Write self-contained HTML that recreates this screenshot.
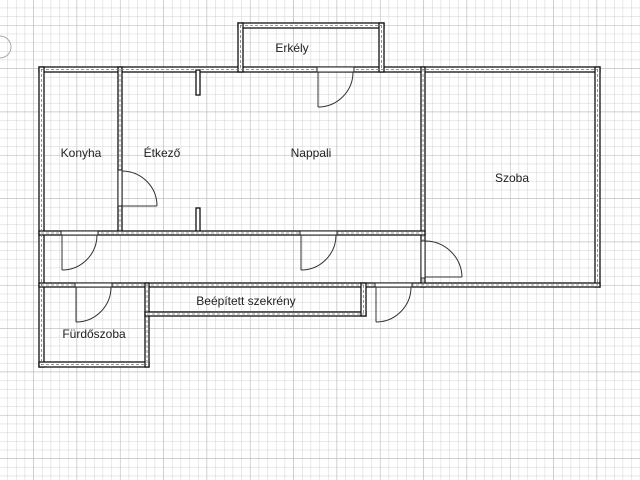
<!DOCTYPE html>
<html><head><meta charset="utf-8"><style>
html,body{margin:0;padding:0;background:#fff;}
svg{display:block;}
text{font-family:"Liberation Sans",sans-serif;font-size:12px;fill:#222;}
</style></head><body>
<svg width="640" height="480" viewBox="0 0 640 480" xmlns="http://www.w3.org/2000/svg">
<defs>
<pattern id="minor" x="7.3" y="7.7" width="8.667" height="8.667" patternUnits="userSpaceOnUse">
<path d="M0 0H8.667M0 0V8.667" stroke="#d2d2d2" stroke-width="1" fill="none"/>
</pattern>
<pattern id="major" x="33.3" y="25" width="43.33" height="43.33" patternUnits="userSpaceOnUse">
<path d="M0 0H43.33M0 0V43.33" stroke="#b4b4b4" stroke-width="1" fill="none"/>
</pattern>
</defs>
<rect width="640" height="480" fill="#fff"/>
<rect width="640" height="480" fill="url(#minor)"/>
<rect width="640" height="480" fill="url(#major)"/>
<circle cx="0" cy="47" r="11" fill="none" stroke="#aaa"/>

<!-- walls -->
<g fill="#fff" stroke="#111" stroke-width="1.3">
<rect x="39" y="67" width="561" height="5"/>
<rect x="238" y="23" width="146" height="5"/>
<rect x="238" y="23" width="5" height="49"/>
<rect x="379" y="23" width="5" height="49"/>
<rect x="39" y="67" width="5" height="300"/>
<rect x="595" y="67" width="5" height="220"/>
<rect x="118" y="67" width="4" height="167"/>
<rect x="196" y="70" width="4" height="25"/>
<rect x="196" y="208" width="4" height="26"/>
<rect x="421" y="67" width="4" height="220"/>
<rect x="39" y="231" width="386" height="4"/>
<rect x="39" y="283" width="561" height="4"/>
<rect x="39" y="362" width="110" height="5"/>
<rect x="145" y="283" width="4" height="84"/>
<rect x="145" y="312" width="221" height="4"/>
<rect x="361" y="283" width="5" height="33"/>
</g>
<g stroke="#777" stroke-width="0.8" stroke-dasharray="3,2" fill="none">
<path d="M41 69.5H598M240 25.5H382M240.5 25V70M381.5 25V70M41.5 69V365M597.5 69V285M120 69V232M423 69V285M41 233H423M41 285H598M41 364.5H147M147 285V365M147 314H364M363.5 285V314"/>
</g>

<!-- door openings -->
<g fill="#fff" stroke="#222" stroke-width="1">
<rect x="317" y="67" width="37" height="5"/>
<rect x="61" y="231" width="37" height="4"/>
<rect x="300" y="231" width="37" height="4"/>
<rect x="75" y="283" width="37" height="4"/>
<rect x="375" y="283" width="37" height="4"/>
<rect x="421" y="241" width="4" height="37"/>
<rect x="118" y="170" width="4" height="36"/>
</g>
<!-- door leaves & arcs -->
<g fill="none" stroke="#333" stroke-width="1">
<path d="M318 72V107M318 107A35 35 0 0 0 353 72"/>
<path d="M62 235V270M62 270A35 35 0 0 0 97 235"/>
<path d="M301 235V270M301 270A35 35 0 0 0 336 235"/>
<path d="M76 287V322M76 322A35 35 0 0 0 111 287"/>
<path d="M376 287V322M376 322A35 35 0 0 0 411 287"/>
<path d="M425 277H462M462 277A37 37 0 0 0 425 241"/>
<path d="M122 206H157M157 206A35 35 0 0 0 122 171"/>
</g>

<text x="292" y="52" text-anchor="middle">Erkély</text>
<text x="81" y="157" text-anchor="middle">Konyha</text>
<text x="162" y="157" text-anchor="middle">Étkező</text>
<text x="311" y="157" text-anchor="middle">Nappali</text>
<text x="512" y="182" text-anchor="middle">Szoba</text>
<text x="246" y="305" text-anchor="middle">Beépített szekrény</text>
<text x="94" y="338" text-anchor="middle">Fürdőszoba</text>
</svg>
</body></html>
